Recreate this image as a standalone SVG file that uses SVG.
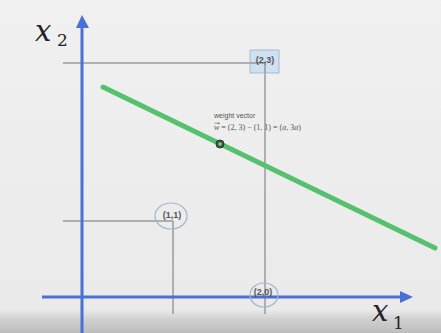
<svg xmlns="http://www.w3.org/2000/svg" width="441" height="333" viewBox="0 0 441 333">
<defs>
<linearGradient id="bg" x1="0" y1="0" x2="0" y2="1">
<stop offset="0" stop-color="#f0f0f0"/>
<stop offset="0.93" stop-color="#eaeaea"/>
<stop offset="0.96" stop-color="#cfcfcf"/>
<stop offset="1" stop-color="#bdbdbd"/>
</linearGradient>
<style>
.guide{stroke:#9a9a9a;stroke-width:1.5;fill:none}
.axis{stroke:#4a70d8;stroke-width:3;fill:none}
.ring{fill:none;stroke:#9fb6cf;stroke-width:1.2}
.pt{font-family:"Liberation Sans",Arial,sans-serif;font-size:9px;font-weight:bold;fill:#555;text-anchor:middle}
.math{font-family:"DejaVu Serif","Liberation Serif",serif;font-style:italic;fill:#222}
.sub{font-family:"DejaVu Serif","Liberation Serif",serif;fill:#222;font-size:17px}
.small{font-family:"Liberation Sans",Arial,sans-serif;font-size:7px;fill:#555}
.formula{font-family:"Liberation Serif",serif;font-size:8px;fill:#555}
</style>
</defs>
<rect width="441" height="333" fill="url(#bg)"/>
<g id="connectors">
<line class="guide" x1="63" y1="63" x2="265" y2="63"/>
<line class="guide" x1="265" y1="63" x2="265" y2="314"/>
<line class="guide" x1="63" y1="221" x2="173" y2="221"/>
<line class="guide" x1="173" y1="221" x2="173" y2="314"/>
</g>
<g id="axes">
<line class="axis" x1="82" y1="333" x2="82" y2="26"/>
<polygon points="82,15 76,28 89,28" fill="#4a70d8"/>
<line class="axis" x1="42" y1="297" x2="402" y2="297"/>
<polygon points="413,297 400,291 400,303" fill="#4a70d8"/>
</g>
<g id="label-x2"><text class="math" x="35" y="41" font-size="29">x</text><text class="sub" x="57" y="46">2</text></g>
<g id="label-x1"><text class="math" x="372" y="321" font-size="29">x</text><text class="sub" x="393" y="329">1</text></g>
<g id="line"><line x1="103" y1="87" x2="435" y2="248" stroke="#55c06d" stroke-width="5" stroke-linecap="round"/></g>
<g id="point-23">
<rect x="250" y="50" width="29" height="23" fill="#c9dcf0" fill-opacity="0.8" stroke="#9fbbd8" stroke-width="1"/>
<line class="guide" x1="250" y1="63" x2="265" y2="63"/>
<line class="guide" x1="265" y1="63" x2="265" y2="73"/>
<text class="pt" x="265" y="63">(2,3)</text>
</g>
<g id="point-11">
<ellipse class="ring" cx="171" cy="216" rx="16" ry="13"/>
<text class="pt" x="172" y="218">(1,1)</text>
</g>
<g id="point-20">
<ellipse class="ring" cx="264" cy="295" rx="14" ry="12"/>
<text class="pt" x="263" y="295">(2,0)</text>
</g>
<g id="weight">
<circle cx="220" cy="144" r="4" fill="#3c5a40" stroke="#2a3a2c" stroke-width="1"/>
<circle cx="220" cy="144" r="1.8" fill="#7fcf8f"/>
<text class="small" x="214" y="118">weight vector</text>
<text class="formula" x="214" y="130"><tspan font-style="italic">w</tspan> = (2, 3) − (1, 1) = (<tspan font-style="italic">a</tspan>, 3<tspan font-style="italic">a</tspan>)</text>
<line x1="214.5" y1="123.2" x2="219" y2="123.2" stroke="#555" stroke-width="0.6"/>
<polygon points="220,123.2 218.4,122.2 218.4,124.2" fill="#555"/>
</g>
</svg>
